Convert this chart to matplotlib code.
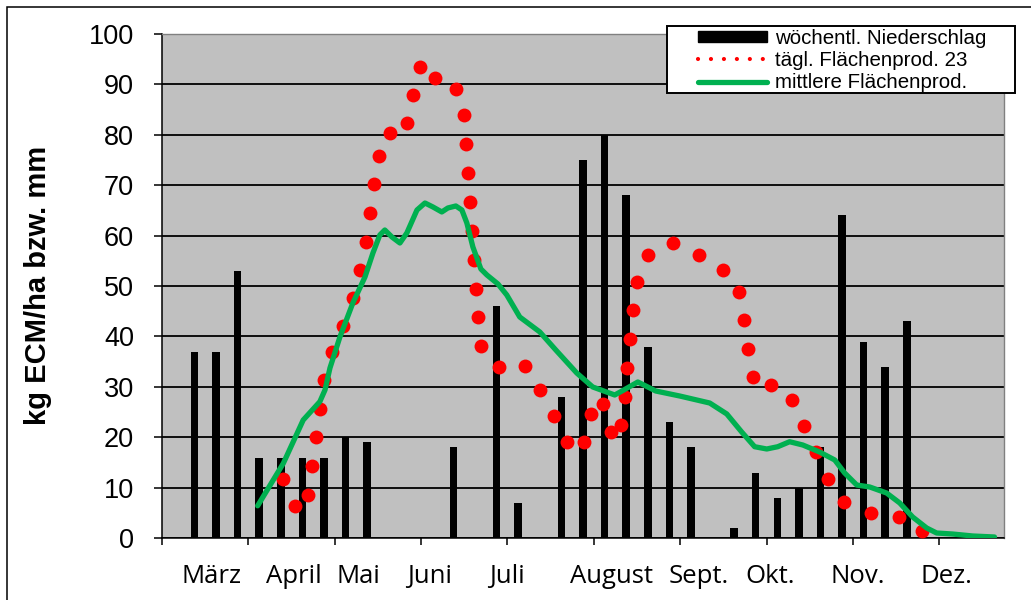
import matplotlib.pyplot as plt
import matplotlib.transforms as mtransforms
from matplotlib.lines import Line2D
from matplotlib.patches import Patch, Rectangle
import numpy as np

# weekly precipitation (mm), one value per week starting 1 March
rain = [0, 37, 37, 53, 16, 16, 16, 16, 20, 19, 0, 0, 0, 18, 0, 46, 7, 0, 28, 75,
        80, 68, 38, 23, 18, 0, 2, 13, 8, 10, 18, 64, 39, 34, 43, 0, 0, 0, 0]

# daily area productivity 23 (x in weeks since 1 March)
prod_x = [5.62, 6.16, 6.75, 6.96, 7.13, 7.33, 7.49, 7.87, 8.40, 8.83,
          9.17, 9.44, 9.64, 9.83, 10.05, 10.56, 11.33, 11.63, 11.94, 12.64,
          13.61, 13.97, 14.08, 14.18, 14.27, 14.35, 14.44, 14.54, 14.64, 14.79,
          15.61, 16.81, 17.53, 18.15, 18.78, 19.54, 19.89, 20.44, 20.79, 21.26,
          21.44, 21.56, 21.70, 21.83, 21.98, 22.49, 23.67, 24.86, 26.00, 26.71,
          26.94, 27.15, 27.38, 28.19, 29.18, 29.72, 30.31, 30.85, 31.59, 32.86,
          34.12, 35.20]
prod_y = [11.75, 6.46, 8.58, 14.33, 20.02, 25.62, 31.37, 36.98, 42.13, 47.62,
          53.17, 58.78, 64.41, 70.15, 75.76, 80.26, 82.24, 87.85, 93.46, 91.16,
          88.98, 83.83, 78.10, 72.39, 66.71, 60.96, 55.21, 49.47, 43.80, 38.11,
          33.89, 34.15, 29.39, 24.30, 19.14, 19.02, 24.57, 26.65, 21.13, 22.45,
          28.06, 33.81, 39.50, 45.24, 50.89, 56.08, 58.48, 56.14, 53.23, 48.91,
          43.26, 37.61, 31.97, 30.34, 27.41, 22.30, 17.04, 11.75, 7.13, 5.07,
          4.28, 1.51]

# mean area productivity
mean_x = [4.43, 5.62, 6.54, 7.31, 7.55, 7.78, 8.24, 8.84, 9.40, 9.77,
          10.09, 10.32, 10.65, 11.02, 11.34, 11.81, 12.18, 12.55, 12.96, 13.24,
          13.61, 13.89, 14.12, 14.40, 14.77, 15.05, 15.56, 15.97, 16.57, 17.50,
          18.24, 19.21, 19.95, 20.97, 21.39, 22.04, 22.87, 23.98, 25.37, 26.16,
          26.85, 27.45, 28.01, 28.52, 29.07, 29.68, 30.46, 31.16, 31.62, 32.18,
          32.78, 33.56, 34.17, 34.77, 35.42, 35.88, 36.62, 37.55, 38.56]
mean_y = [6.44, 14.86, 23.44, 27.07, 29.40, 33.75, 39.89, 46.63, 51.78, 56.54,
          60.11, 61.10, 59.71, 58.52, 60.50, 65.06, 66.45, 65.66, 64.67, 65.46,
          65.86, 65.06, 62.49, 57.73, 53.37, 52.18, 50.40, 48.22, 43.86, 40.89,
          37.32, 32.76, 29.99, 28.40, 29.39, 30.98, 29.19, 28.20, 26.81, 24.64,
          21.07, 18.15, 17.70, 18.15, 19.14, 18.49, 17.10, 15.52, 12.94, 10.56,
          10.17, 8.98, 7.00, 4.22, 2.04, 1.05, 0.85, 0.46, 0.26]

months = ['März', 'April', 'Mai', 'Juni', 'Juli', 'August', 'Sept.', 'Okt.', 'Nov.', 'Dez.']
month_pos = [2.30, 6.12, 9.09, 12.38, 16.0, 20.82, 24.86, 28.15, 32.22, 36.33]

fig = plt.figure(figsize=(10.31, 6.0), dpi=100)
ax = fig.add_axes([162 / 1031, 61.7 / 600, 842 / 1031, 504.6 / 600])
ax.set_facecolor('#C0C0C0')

weeks = np.arange(len(rain)) + 0.5
ax.bar(weeks, rain, width=0.35, color='black', zorder=2)
ax.plot(prod_x, prod_y, linestyle='none', marker='o', markersize=10,
        markerfacecolor='#FF0000', markeredgewidth=0, zorder=3)
ax.plot(mean_x, mean_y, color='#00B050', lw=3.8, solid_joinstyle='round',
        solid_capstyle='round', zorder=4)

ax.set_xlim(0, 39)
ax.set_ylim(0, 100)
ax.set_yticks(range(0, 101, 10))
ax.set_xticks(range(0, 37, 4))
ax.set_xticklabels([])
ax.yaxis.grid(True, color='black', lw=1.3)
ax.set_axisbelow(True)
ax.tick_params(axis='y', direction='out', length=5.5, width=1.1, pad=14.5,
               labelsize=19.5, labelfontfamily='Liberation Sans')
ax.tick_params(axis='x', direction='out', length=5.0, width=1.1)
for s in ['left', 'bottom']:
    ax.spines[s].set_color('black')
    ax.spines[s].set_linewidth(1.1)
for s in ['top', 'right']:
    ax.spines[s].set_color('#808080')
    ax.spines[s].set_linewidth(1.0)

trans = mtransforms.blended_transform_factory(ax.transData, ax.transAxes)
for name, pos in zip(months, month_pos):
    ax.text(pos, -0.0886, name, transform=trans, ha='center', va='baseline',
            fontsize=18.5, family='Open Sans')

fig.text(38 / 1031, 0.525, 'kg ECM/ha bzw. mm', rotation=90, ha='center', va='center',
         fontsize=21, fontweight='bold', family='Liberation Sans')

# outer frame
fig.patches.append(Rectangle((7 / 1031, -0.05), 1.1, 593 / 600 + 0.05, fill=False,
                             edgecolor='black', lw=1.1, transform=fig.transFigure,
                             zorder=0))

# legend box
fig.patches.append(Rectangle((667 / 1031, 507 / 600), 348 / 1031, 67 / 600,
                             facecolor='white', edgecolor='black', lw=1.4,
                             transform=fig.transFigure, zorder=4))
handles = [Patch(facecolor='black', edgecolor='black'),
           Line2D([0], [0], color='#FF0000', lw=3, linestyle=(0, (0.01, 3.1)),
                  dash_capstyle='round'),
           Line2D([0], [0], color='#00B050', lw=3.8, solid_capstyle='round')]
labels = ['wöchentl. Niederschlag', 'tägl. Flächenprod. 23', 'mittlere Flächenprod.']
fig.legend(handles, labels, loc='upper left', bbox_to_anchor=(688 / 1031, 581.5 / 600),
           frameon=False, borderpad=0, labelspacing=0.16, handlelength=3.35,
           handleheight=0.5, handletextpad=0.4,
           prop={'family': 'Liberation Sans', 'size': 14.8})

fig.savefig('out.png', dpi=100)
